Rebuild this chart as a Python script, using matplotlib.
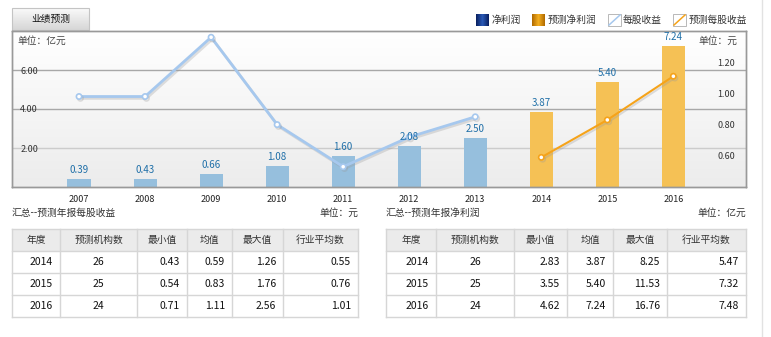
import numpy as np
import matplotlib
matplotlib.use("Agg")
import matplotlib.pyplot as plt
import matplotlib.patheffects as pe
from matplotlib.patches import Rectangle

plt.rcParams['font.family'] = ['Noto Sans CJK SC', 'DejaVu Sans']

# ---------------- data ----------------
years = ['2007', '2008', '2009', '2010', '2011', '2012', '2013', '2014', '2015', '2016']
profit_hist = [0.39, 0.43, 0.66, 1.08, 1.60, 2.08, 2.50]
profit_fc = [3.87, 5.40, 7.24]
eps_hist = [0.98, 0.98, 1.36, 0.80, 0.53, 0.72, 0.85]
eps_fc = [0.59, 0.83, 1.11]
left_ticks = [2, 4, 6]
right_ticks = [0.6, 0.8, 1.0, 1.2]

table_header = ['年度', '预测机构数', '最小值', '均值', '最大值', '行业平均数']
eps_table = [['2014', '26', '0.43', '0.59', '1.26', '0.55'],
             ['2015', '25', '0.54', '0.83', '1.76', '0.76'],
             ['2016', '24', '0.71', '1.11', '2.56', '1.01']]
profit_table = [['2014', '26', '2.83', '3.87', '8.25', '5.47'],
                ['2015', '25', '3.55', '5.40', '11.53', '7.32'],
                ['2016', '24', '4.62', '7.24', '16.76', '7.48']]

W, H = 771, 337
fig = plt.figure(figsize=(W / 100, H / 100), dpi=100)
fig.patch.set_facecolor('white')

# overlay for decorations and tables (pixel coords)
ov = fig.add_axes([0, 0, 1, 1], zorder=0)
ov.set_xlim(0, W)
ov.set_ylim(H, 0)
ov.axis('off')

# ---------------- chart ----------------
L, R, T, B = 12, 746, 31, 187
ax = fig.add_axes([L / W, (H - B) / H, (R - L) / W, (B - T) / H], zorder=2)
ax.set_xlim(-1.015, 10.1)
ax.set_ylim(0, 8)
# gradient background
grad = np.linspace(1.0, 0.0, 256).reshape(-1, 1)
top_c = np.array([1.0, 1.0, 1.0])
bot_c = np.array([0.925, 0.925, 0.925])
img = top_c * grad[..., None] + bot_c * (1 - grad[..., None])
ax.imshow(img, extent=[-1.015, 10.1, 0, 8], aspect='auto', zorder=0)

grid_cols = {2: '#cccccc', 4: '#a8a8a8', 6: '#a8a8a8'}
for v in left_ticks:
    ax.axhline(v, color=grid_cols[v], lw=1.0, zorder=1)

x_hist = np.arange(len(profit_hist))
x_fc = np.arange(len(profit_hist), len(years))
bw = 0.35
ax.bar(x_hist, profit_hist, width=bw, color='#96bfdd', zorder=2)
ax.bar(x_fc, profit_fc, width=bw, color='#f5c155', zorder=2)

ax.set_xticks(np.arange(len(years)))
ax.set_xticklabels(years)
ax.tick_params(axis='x', length=0, pad=6, labelsize=6.5, colors='#222222')
ax.set_yticks(left_ticks)
ax.set_yticklabels([f'{v:.2f}' for v in left_ticks])
ax.tick_params(axis='y', direction='in', length=0, pad=-6, labelsize=6.5, colors='#333333')
for lbl in ax.get_yticklabels():
    lbl.set_ha('left')
for s in ax.spines.values():
    s.set_color('#999999')
    s.set_linewidth(1.0)

ax2 = ax.twinx()
ax2.set_ylim(0.4, 1.4)
ax2.set_yticks(right_ticks)
ax2.set_yticklabels([f'{v:.2f}' for v in right_ticks])
ax2.tick_params(axis='y', direction='in', length=0, pad=-8, labelsize=6.5, colors='#333333')
for lbl in ax2.get_yticklabels():
    lbl.set_ha('right')
for s in ax2.spines.values():
    s.set_color('#999999')
    s.set_linewidth(1.0)

shadow = [pe.SimpleLineShadow(offset=(1.0, -1.3), shadow_color='#999999', alpha=0.3), pe.Normal()]
ax2.plot(x_hist, eps_hist, color='#a6c8ee', lw=2, marker='o', ms=3.8, mfc='white',
         mec='#a6c8ee', mew=1.2, path_effects=shadow, zorder=4)
ax2.plot(x_fc, eps_fc, color='#f5a31a', lw=1.5, marker='o', ms=3.8, mfc='white',
         mec='#f5a31a', mew=1.2, path_effects=shadow, zorder=4)

# bar value labels drawn on top of the lines (placed in bar-axis data coordinates)
for xs, vals in ((x_hist, profit_hist), (x_fc, profit_fc)):
    for xi, v in zip(xs, vals):
        ax2.annotate(f'{v:.2f}', (xi, v), xycoords=ax.transData, xytext=(0, 4),
                     textcoords='offset pixels', ha='center', va='bottom', fontsize=7,
                     color='#1f6fa8', zorder=6)

ax2.text(0.008, 0.94, '单位：亿元', transform=ax.transAxes, fontsize=7, color='#444444',
         ha='left', va='center', zorder=6)
ax2.text(0.989, 0.94, '单位：元', transform=ax.transAxes, fontsize=7, color='#444444',
         ha='right', va='center', zorder=6)

# ---------------- tab button ----------------
tab_grad = np.linspace(0.98, 0.84, 64).reshape(-1, 1)
ov.imshow(np.dstack([tab_grad] * 3), extent=[12, 89, 30, 8], aspect='auto', zorder=1)
ov.add_patch(Rectangle((12, 8), 77, 22, fill=False, ec='#c4c4c4', lw=0.8, zorder=2))
ov.text(50.5, 19, '业绩预测', ha='center', va='center', fontsize=7, color='#111111', zorder=3)

# ---------------- legend ----------------
def grad_square(x0, c_edge, c_mid):
    t = np.abs(np.linspace(-1, 1, 32))
    ce, cm = np.array(matplotlib.colors.to_rgb(c_edge)), np.array(matplotlib.colors.to_rgb(c_mid))
    row = cm[None, :] * (1 - t[:, None]) + ce[None, :] * t[:, None]
    ov.imshow(np.repeat(row[None, :, :], 4, axis=0), extent=[x0, x0 + 13, 26, 14],
              aspect='auto', zorder=2)

def line_square(x0, col):
    ov.add_patch(Rectangle((x0, 14), 13, 12, fc='white', ec='#b8b8b8', lw=0.7, zorder=2))
    ov.plot([x0 + 1, x0 + 12], [25, 15], color=col, lw=1.1, zorder=3)

grad_square(476, '#0a2060', '#2a5ab8')
ov.text(492, 20, '净利润', ha='left', va='center', fontsize=7, color='#333333')
grad_square(532, '#b06a00', '#f5b020')
ov.text(548, 20, '预测净利润', ha='left', va='center', fontsize=7, color='#333333')
line_square(608, '#a6c8ee')
ov.text(623, 20, '每股收益', ha='left', va='center', fontsize=7, color='#333333')
line_square(673, '#f5a31a')
ov.text(689, 20, '预测每股收益', ha='left', va='center', fontsize=7, color='#333333')

# scrollbar-like border on the right
ov.plot([762, 762], [0, H], color='#e2e2e2', lw=1, zorder=1)

# ---------------- tables ----------------
ov.text(12, 213, '汇总--预测年报每股收益', ha='left', va='center', fontsize=7, color='#333333')
ov.text(358, 213, '单位：元', ha='right', va='center', fontsize=7, color='#333333')
ov.text(386, 213, '汇总--预测年报净利润', ha='left', va='center', fontsize=7, color='#333333')
ov.text(746, 213, '单位：亿元', ha='right', va='center', fontsize=7, color='#333333')

row_edges = [229, 251, 273, 295, 317]

def draw_table(cols, rows):
    ov.add_patch(Rectangle((cols[0], row_edges[0]), cols[-1] - cols[0], row_edges[1] - row_edges[0],
                           fc='#ebebeb', ec='none', zorder=1))
    for y in row_edges:
        ov.plot([cols[0], cols[-1]], [y, y], color='#d6d6d6', lw=1, zorder=2)
    for x in cols:
        ov.plot([x, x], [row_edges[0], row_edges[-1]], color='#d6d6d6', lw=1, zorder=2)
    yc = (row_edges[0] + row_edges[1]) / 2
    for j, h in enumerate(table_header):
        ov.text((cols[j] + cols[j + 1]) / 2, yc, h, ha='center', va='center',
                fontsize=7, color='#333333', zorder=3)
    for i, r in enumerate(rows):
        yc = (row_edges[i + 1] + row_edges[i + 2]) / 2
        for j, v in enumerate(r):
            if j == 1:
                ov.text((cols[j] + cols[j + 1]) / 2, yc, v, ha='center', va='center',
                        fontsize=7.5, color='#111111', zorder=3)
            else:
                ov.text(cols[j + 1] - 7, yc, v, ha='right', va='center',
                        fontsize=7.5, color='#111111', zorder=3)

draw_table([12, 60, 137, 187, 232, 283, 358], eps_table)
draw_table([386, 436, 514, 567, 613, 667, 746], profit_table)

fig.savefig('out.png', dpi=100)
